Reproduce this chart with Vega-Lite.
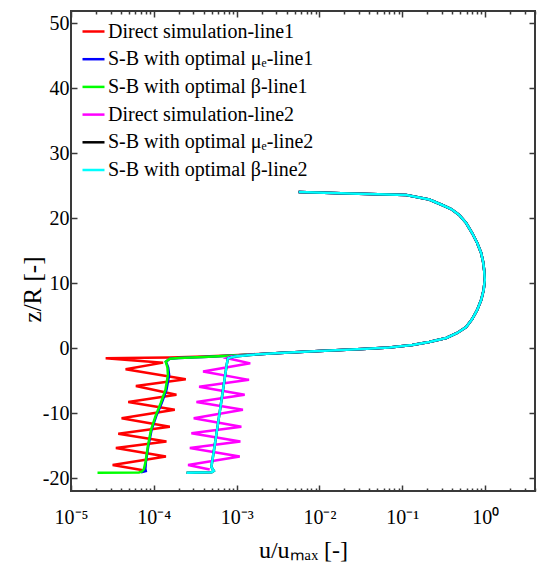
{
  "$schema": "https://vega.github.io/schema/vega-lite/v6.json",
  "autosize": {"type": "none"},
  "padding": {"left": 71, "top": 11, "right": 3, "bottom": 72},
  "width": 464,
  "height": 480,
  "background": "white",
  "data": {
    "values": [
      {"s": "Direct simulation-line1",
       "u": [0.0056, 0.023, 0.1117, 0.2113, 0.3034, 0.389, 0.486, 0.59, 0.697, 0.802, 0.895, 0.946, 0.973, 0.99, 0.959, 0.895, 0.802, 0.697, 0.59, 0.46, 0.339, 0.211, 0.132, 0.0697, 0.033, 0.01, 0.0033,
             0.00158, 0.000794, 0.000398, 0.000158, 0.0000794, 0.0000262, 0.0001294, 0.0000456, 0.000243, 0.0000607, 0.0001875, 0.0000491, 0.000179, 0.0000408, 0.000156, 0.0000372, 0.000142, 0.0000348, 0.00014, 0.0000318, 0.0000743],
       "z": [24.0, 23.77, 23.54, 22.85, 22.0, 21.38, 20.46, 19.23, 17.69, 16.15, 14.62, 13.23, 12.0, 10.46, 8.92, 7.38, 5.85, 4.46, 3.23, 2.31, 1.54, 0.92, 0.46, 0.08, -0.15, -0.46, -0.77,
             -0.95, -1.15, -1.3, -1.45, -1.5, -1.59, -2.25, -3.28, -4.8, -5.85, -7.2, -8.3, -9.5, -10.8, -12.1, -13.2, -14.4, -15.4, -16.7, -18.0, -18.8]},
      {"s": "S-B with optimal μₑ-line1",
       "u": [0.0056, 0.023, 0.1117, 0.2113, 0.3034, 0.389, 0.486, 0.59, 0.697, 0.802, 0.895, 0.946, 0.973, 0.99, 0.959, 0.895, 0.802, 0.697, 0.59, 0.46, 0.339, 0.211, 0.132, 0.0697, 0.033, 0.01, 0.0033,
             0.00158, 0.000794, 0.000398, 0.0002, 0.000156, 0.00014, 0.000145, 0.000149, 0.000153, 0.000142, 0.000124, 0.000108, 0.0000938, 0.0000855, 0.0000802, 0.000079, 0.00008, 0.00007],
       "z": [24.0, 23.77, 23.54, 22.85, 22.0, 21.38, 20.46, 19.23, 17.69, 16.15, 14.62, 13.23, 12.0, 10.46, 8.92, 7.38, 5.85, 4.46, 3.23, 2.31, 1.54, 0.92, 0.46, 0.08, -0.15, -0.46, -0.77,
             -1.0, -1.2, -1.38, -1.52, -1.64, -2.1, -2.6, -3.0, -4.15, -6.46, -8.5, -10.3, -12.6, -15.2, -17.5, -18.6, -18.95, -19.12]},
      {"s": "S-B with optimal β-line1",
       "u": [0.0056, 0.023, 0.1117, 0.2113, 0.3034, 0.389, 0.486, 0.59, 0.697, 0.802, 0.895, 0.946, 0.973, 0.99, 0.959, 0.895, 0.802, 0.697, 0.59, 0.46, 0.339, 0.211, 0.132, 0.0697, 0.033, 0.01, 0.0033,
             0.00158, 0.000794, 0.000398, 0.0002, 0.000156, 0.000139, 0.000143, 0.000146, 0.000148, 0.000138, 0.000121, 0.000106, 0.0000925, 0.0000845, 0.0000795, 0.000076, 0.000072, 0.000066, 0.0000209],
       "z": [24.0, 23.77, 23.54, 22.85, 22.0, 21.38, 20.46, 19.23, 17.69, 16.15, 14.62, 13.23, 12.0, 10.46, 8.92, 7.38, 5.85, 4.46, 3.23, 2.31, 1.54, 0.92, 0.46, 0.08, -0.15, -0.46, -0.77,
             -1.0, -1.2, -1.38, -1.52, -1.64, -2.1, -2.6, -3.0, -4.15, -6.46, -8.5, -10.3, -12.6, -15.2, -17.5, -18.6, -19.0, -19.15, -19.2]},
      {"s": "Direct simulation-line2",
       "u": [0.0056, 0.023, 0.1117, 0.2113, 0.3034, 0.389, 0.486, 0.59, 0.697, 0.802, 0.895, 0.946, 0.973, 0.99, 0.959, 0.895, 0.802, 0.697, 0.59, 0.46, 0.339, 0.211, 0.132, 0.0697, 0.033, 0.01, 0.0033,
             0.00158, 0.00085, 0.00076, 0.00146, 0.000393, 0.00141, 0.000352, 0.00125, 0.000327, 0.00119, 0.000303, 0.00114, 0.000284, 0.00111, 0.000272, 0.00109, 0.000259, 0.000473],
       "z": [24.0, 23.77, 23.54, 22.85, 22.0, 21.38, 20.46, 19.23, 17.69, 16.15, 14.62, 13.23, 12.0, 10.46, 8.92, 7.38, 5.85, 4.46, 3.23, 2.31, 1.54, 0.92, 0.46, 0.08, -0.15, -0.46, -0.77,
             -1.0, -1.3, -1.55, -2.36, -3.6, -4.9, -5.95, -7.2, -8.3, -9.5, -10.8, -12.1, -13.1, -14.4, -15.4, -16.7, -18.0, -18.7]},
      {"s": "S-B with optimal μₑ-line2",
       "u": [0.0056, 0.023, 0.1117, 0.2113, 0.3034, 0.389, 0.486, 0.59, 0.697, 0.802, 0.895, 0.946, 0.973, 0.99, 0.959, 0.895, 0.802, 0.697, 0.59, 0.46, 0.339, 0.211, 0.132, 0.0697, 0.033, 0.01, 0.0033,
             0.00158, 0.00095, 0.00085, 0.000785, 0.00076, 0.000684, 0.000596, 0.000518, 0.000495, 0.00053, 0.0005, 0.000248],
       "z": [24.0, 23.77, 23.54, 22.85, 22.0, 21.38, 20.46, 19.23, 17.69, 16.15, 14.62, 13.23, 12.0, 10.46, 8.92, 7.38, 5.85, 4.46, 3.23, 2.31, 1.54, 0.92, 0.46, 0.08, -0.15, -0.46, -0.77,
             -1.02, -1.3, -1.45, -1.59, -2.5, -6.46, -11.6, -16.7, -18.3, -18.9, -19.1, -19.2]},
      {"s": "S-B with optimal β-line2",
       "u": [0.0056, 0.023, 0.1117, 0.2113, 0.3034, 0.389, 0.486, 0.59, 0.697, 0.802, 0.895, 0.946, 0.973, 0.99, 0.959, 0.895, 0.802, 0.697, 0.59, 0.46, 0.339, 0.211, 0.132, 0.0697, 0.033, 0.01, 0.0033,
             0.00158, 0.00095, 0.00085, 0.000785, 0.00076, 0.000684, 0.000596, 0.000518, 0.000495, 0.00053, 0.0005, 0.000248],
       "z": [24.0, 23.77, 23.54, 22.85, 22.0, 21.38, 20.46, 19.23, 17.69, 16.15, 14.62, 13.23, 12.0, 10.46, 8.92, 7.38, 5.85, 4.46, 3.23, 2.31, 1.54, 0.92, 0.46, 0.08, -0.15, -0.46, -0.77,
             -1.02, -1.3, -1.45, -1.59, -2.5, -6.46, -11.6, -16.7, -18.3, -18.9, -19.1, -19.2]}
    ]
  },
  "transform": [{"flatten": ["u", "z"]}],
  "layer": [
    {
      "mark": {"type": "line", "strokeWidth": 2.5, "clip": true},
      "encoding": {
        "x": {
          "field": "u", "type": "quantitative",
          "scale": {"type": "log", "domain": [0.00001, 4], "nice": false, "zero": false},
          "axis": {
            "orient": "bottom",
            "title": "u/uₘₐₓ [-]",
            "titlePadding": 8,
            "values": [0.00001, 0.00002, 0.00003, 0.00004, 0.00005, 0.00006, 0.00007, 0.00008, 0.00009,
                       0.0001, 0.0002, 0.0003, 0.0004, 0.0005, 0.0006, 0.0007, 0.0008, 0.0009,
                       0.001, 0.002, 0.003, 0.004, 0.005, 0.006, 0.007, 0.008, 0.009,
                       0.01, 0.02, 0.03, 0.04, 0.05, 0.06, 0.07, 0.08, 0.09,
                       0.1, 0.2, 0.3, 0.4, 0.5, 0.6, 0.7, 0.8, 0.9,
                       1, 2, 3, 4],
            "tickSize": {"condition": {"test": "abs(log(datum.value)/LN10 - round(log(datum.value)/LN10)) < 1e-6", "value": -6}, "value": -3},
            "labelExpr": "abs(log(datum.value)/LN10 - round(log(datum.value)/LN10)) > 1e-6 ? '' : round(log(datum.value)/LN10) == -5 ? '10⁻⁵' : round(log(datum.value)/LN10) == -4 ? '10⁻⁴' : round(log(datum.value)/LN10) == -3 ? '10⁻³' : round(log(datum.value)/LN10) == -2 ? '10⁻²' : round(log(datum.value)/LN10) == -1 ? '10⁻¹' : '10⁰'",
            "labelPadding": 22,
            "labelFlush": false,
            "labelOverlap": false,
            "labelBound": false
          }
        },
        "y": {
          "field": "z", "type": "quantitative",
          "scale": {"domain": [-22, 51.85], "nice": false, "zero": false},
          "axis": {
            "orient": "left",
            "title": "z/R [-]",
            "titleX": -31,
            "titleY": 278,
            "titleAngle": -90,
            "titleAlign": "center",
            "titleBaseline": "alphabetic",
            "titleFontSize": 25,
            "values": [-20, -10, 0, 10, 20, 30, 40, 50],
            "tickSize": -6,
            "labelExpr": "'' + datum.value",
            "labelPadding": 8,
            "labelOverlap": false
          }
        },
        "color": {
          "field": "s", "type": "nominal",
          "scale": {
            "domain": ["Direct simulation-line1", "S-B with optimal μₑ-line1", "S-B with optimal β-line1", "Direct simulation-line2", "S-B with optimal μₑ-line2", "S-B with optimal β-line2"],
            "range": ["#ff0000", "#0000ff", "#00ff00", "#ff00ff", "#000000", "#00ffff"]
          },
          "legend": {
            "orient": "none", "legendX": 10, "legendY": 8,
            "title": null,
            "symbolType": "stroke", "symbolSize": 484, "symbolStrokeWidth": 2.5,
            "labelFont": "Liberation Serif", "labelFontSize": 20, "labelColor": "#000000",
            "labelOffset": 2, "labelLimit": 400, "rowPadding": 4.7
          }
        },
        "order": {"field": "z", "sort": "descending"}
      }
    },
    {
      "mark": {"type": "line", "strokeOpacity": 0},
      "encoding": {
        "x": {
          "field": "u", "type": "quantitative",
          "axis": {
            "orient": "top", "title": null, "labels": false,
            "values": [0.00001, 0.00002, 0.00003, 0.00004, 0.00005, 0.00006, 0.00007, 0.00008, 0.00009,
                       0.0001, 0.0002, 0.0003, 0.0004, 0.0005, 0.0006, 0.0007, 0.0008, 0.0009,
                       0.001, 0.002, 0.003, 0.004, 0.005, 0.006, 0.007, 0.008, 0.009,
                       0.01, 0.02, 0.03, 0.04, 0.05, 0.06, 0.07, 0.08, 0.09,
                       0.1, 0.2, 0.3, 0.4, 0.5, 0.6, 0.7, 0.8, 0.9,
                       1, 2, 3, 4],
            "tickSize": {"condition": {"test": "abs(log(datum.value)/LN10 - round(log(datum.value)/LN10)) < 1e-6", "value": -6}, "value": -3}
          }
        },
        "y": {
          "field": "z", "type": "quantitative",
          "axis": {
            "orient": "right", "title": null, "labels": false,
            "values": [-20, -10, 0, 10, 20, 30, 40, 50],
            "tickSize": -6
          }
        },
        "detail": {"field": "s"},
        "order": {"field": "z", "sort": "descending"}
      }
    }
  ],
  "config": {
    "font": "Liberation Serif",
    "view": {"stroke": "#3a3a3a", "strokeWidth": 2},
    "axis": {
      "domain": false,
      "grid": false,
      "tickColor": "#3a3a3a",
      "tickWidth": 1.5,
      "labelFont": "Liberation Serif",
      "labelFontSize": 20,
      "labelColor": "#000000",
      "titleFont": "Liberation Serif",
      "titleFontSize": 24,
      "titleFontWeight": "normal",
      "titleColor": "#000000"
    }
  }
}
